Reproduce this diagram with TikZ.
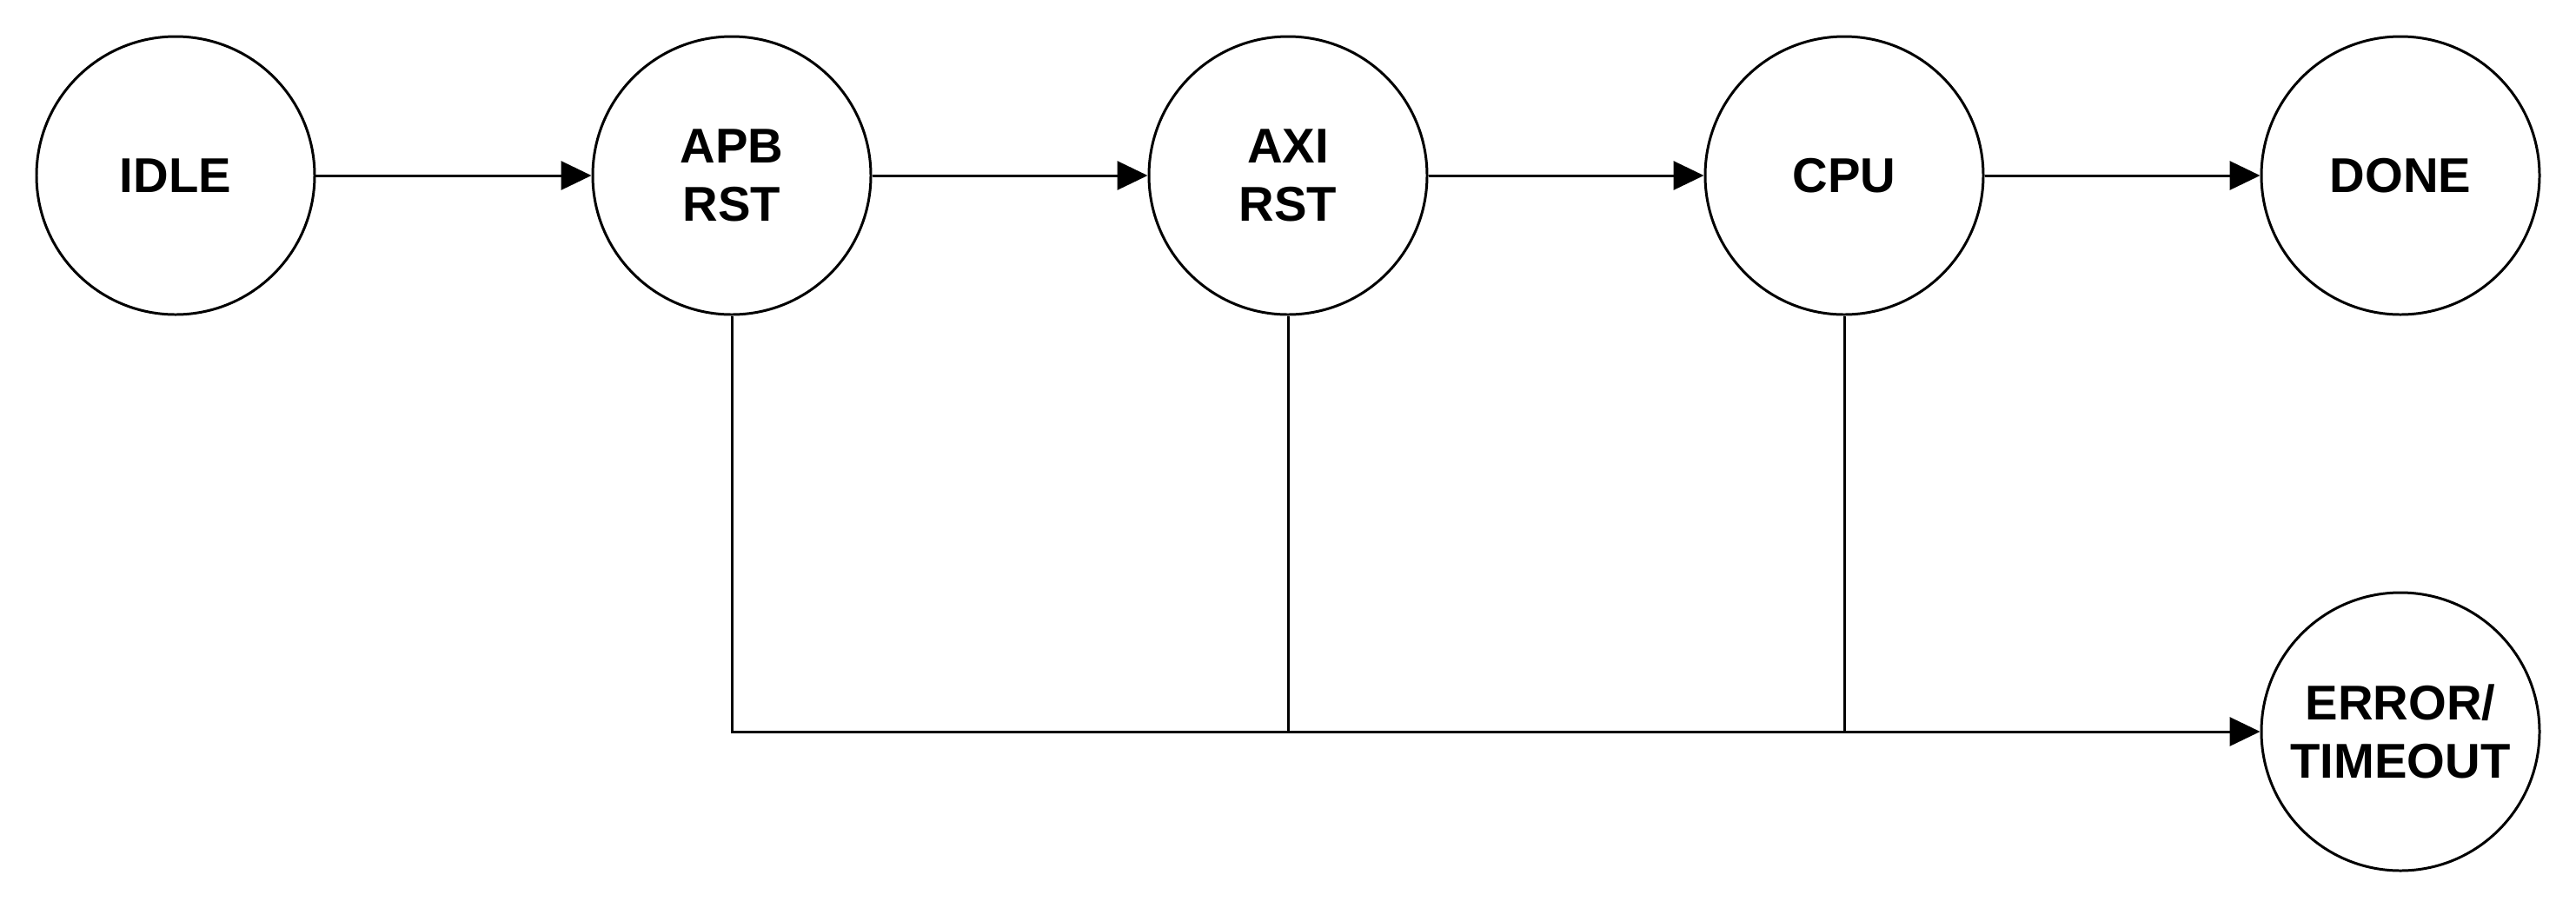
\documentclass[tikz,border=0pt]{standalone}
\usepackage{fontspec}
\setmainfont{Liberation Sans}
\usetikzlibrary{shapes.geometric, arrows.meta}
\tikzstyle{state} = [circle, minimum size=3.2cm, inner sep=0pt, align=center, draw=black, line width=0.85pt, font=\fontsize{16}{19}\selectfont\bfseries]
\tikzstyle{arrow} = [line width=0.85pt,-{Triangle[length=0.35cm,width=0.33cm]}]
\tikzstyle{wire} = [line width=0.85pt]

\begin{document}
\begin{tikzpicture}[node distance=6.4cm]
\useasboundingbox (0,0) rectangle (29.64,-10.44);

\node (idle) [state] at (2.02,-2.02) {IDLE};
\node (apbrst) [state, right of=idle] {APB\\RST};
\node (axirst) [state, right of=apbrst] {AXI\\RST};
\node (cpu) [state, right of=axirst] {CPU};
\node (done) [state, right of=cpu] {DONE};
\node (error) [state, below of=done] {ERROR/\\TIMEOUT};

\coordinate (apbcorner) at (apbrst.south |- error.west);
\coordinate (axijoin) at (axirst.south |- error.west);
\coordinate (cpujoin) at (cpu.south |- error.west);

\draw [arrow] (idle) -- (apbrst);
\draw [arrow] (apbrst) -- (axirst);
\draw [arrow] (axirst) -- (cpu);
\draw [arrow] (cpu) -- (done);
\draw [arrow] (apbrst.south) -- (apbcorner) -- (error.west);
\draw [wire] (axirst.south) -- (axijoin);
\draw [wire] (cpu.south) -- (cpujoin);

\end{tikzpicture}
\end{document}
